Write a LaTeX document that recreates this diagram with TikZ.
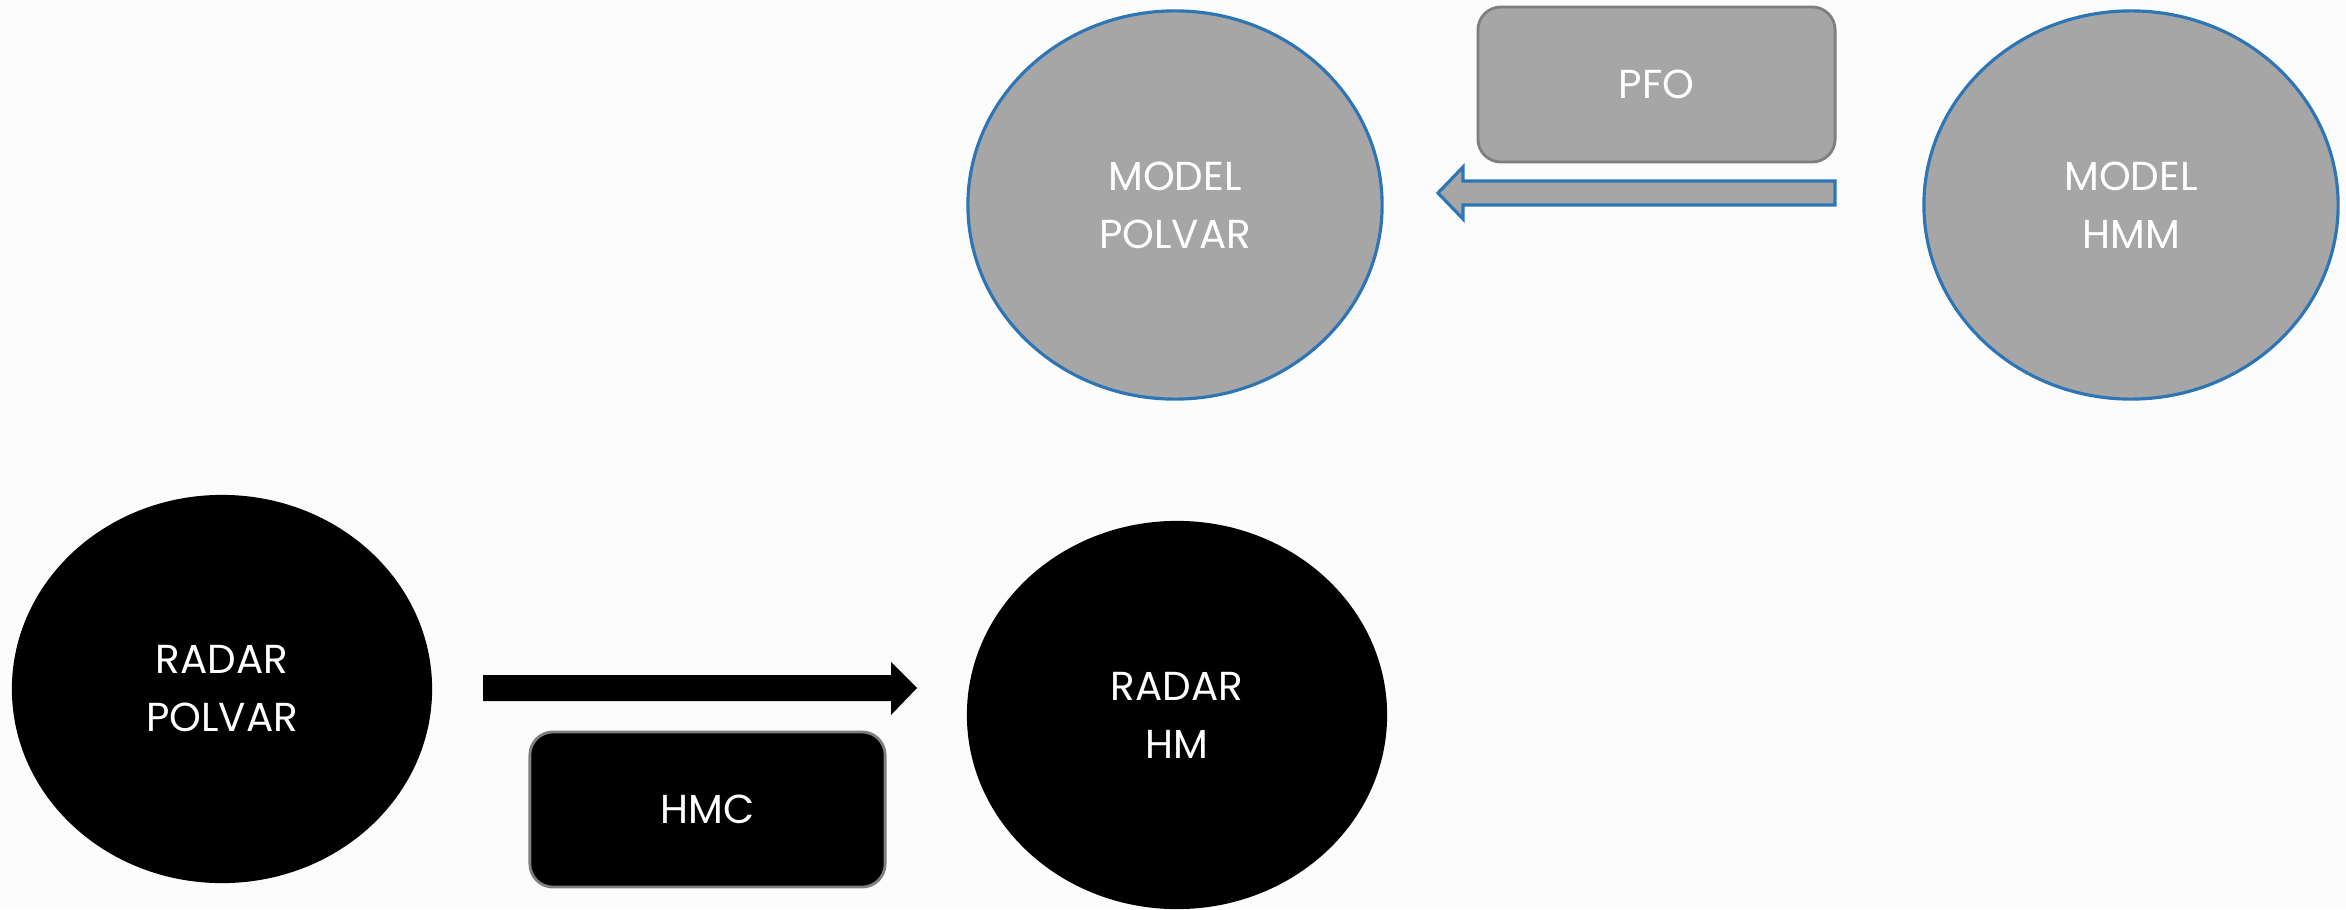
\documentclass[tikz,border=0pt]{standalone}
\usepackage{fontspec}
\setmainfont{Poppins}
\usetikzlibrary{shapes.geometric}
\definecolor{gfill}{HTML}{A6A6A6}
\definecolor{bblue}{HTML}{2E75B6}
\definecolor{gedge}{HTML}{7F7F7F}
\definecolor{bgcol}{HTML}{FCFCFC}
\begin{document}
\begin{tikzpicture}[x=0.01cm,y=-0.01cm,
  oval/.style={ellipse, inner sep=0pt, minimum width=4.14cm, minimum height=3.88cm,
    align=center, text=white, font=\fontsize{11.5}{16.5}\selectfont},
  greyoval/.style={oval, fill=gfill, draw=bblue, line width=0.9pt},
  blackoval/.style={oval, fill=black, minimum width=4.2cm},
  labelbox/.style={rectangle, rounded corners=0.23cm, draw=gedge, line width=0.8pt,
    text=white, minimum width=3.57cm, minimum height=1.55cm,
    font=\fontsize{11.5}{14}\selectfont},
  blockarrow/.style={line width=0.9pt, line join=miter},
]
\fill[bgcol] (0,0) rectangle (2346,909);
\useasboundingbox (0,0) rectangle (2346,909);

\node[greyoval] (mpolvar) at (1175,205) {MODEL\\POLVAR};
\node[greyoval] (mhmm) at (2131,205) {MODEL\\HMM};
\node[blackoval] (rpolvar) at (222,689) {RADAR\\POLVAR};
\node[blackoval] (rhm) at (1177,715) {RADAR\\HM};

\node[labelbox, fill=gfill] (pfo) at (1656.5,84.5) {PFO};
\node[labelbox, fill=black, minimum width=3.55cm] (hmc) at (707.5,809.5) {HMC};

% block arrow PFO (pointing left)
\coordinate (pfoTail) at (1835,193);
\coordinate (pfoTip) at (1438,193);
\draw[blockarrow, fill=gfill, draw=bblue]
  (1835,181) -- (1463,181) -- (1463,167) -- (pfoTip) -- (1463,219) -- (1463,205) -- (1835,205) -- cycle;

% block arrow HMC (pointing right)
\coordinate (hmcTail) at (483,688);
\coordinate (hmcTip) at (917,688);
\fill[black]
  (483,675) -- (891,675) -- (891,662) -- (hmcTip) -- (891,715) -- (891,701) -- (483,701) -- cycle;
\end{tikzpicture}
\end{document}
